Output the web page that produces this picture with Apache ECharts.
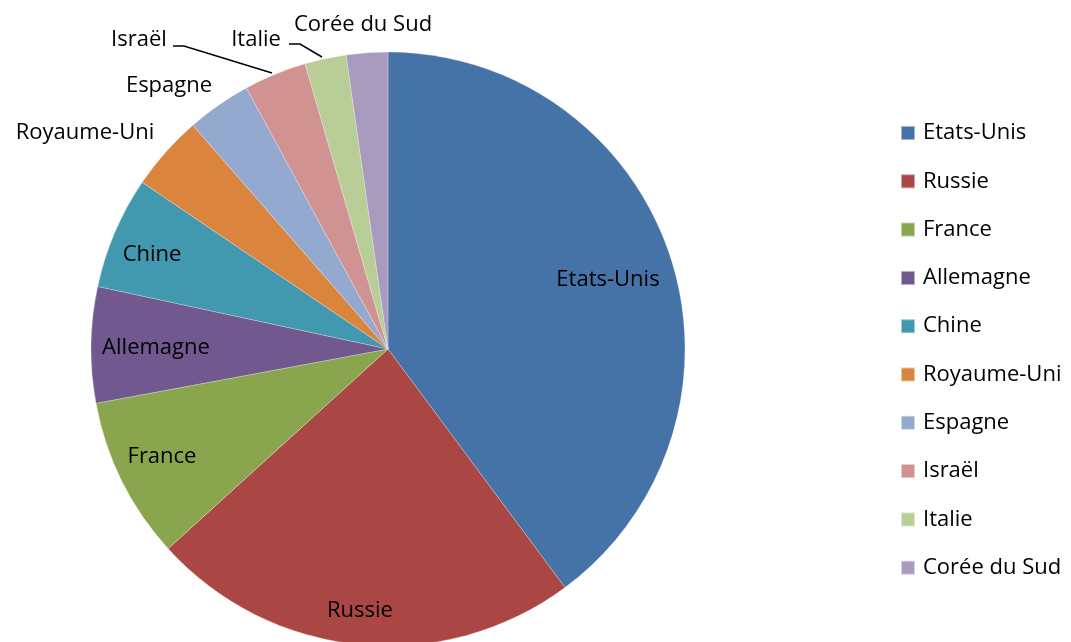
<!DOCTYPE html>
<html>
<head>
<meta charset="utf-8">
<script src="https://cdn.jsdelivr.net/npm/echarts@6/dist/echarts.min.js"></script>
<style>html,body{margin:0;padding:0;background:#fff}#c{width:1071px;height:642px}</style>
</head>
<body>
<div id="c"></div>
<script>
var categories = ['Etats-Unis','Russie','France','Allemagne','Chine','Royaume-Uni','Espagne','Israël','Italie','Corée du Sud'];
var values = [39.8, 23.4, 8.8, 6.3, 6.1, 4.1, 3.5, 3.4, 2.25, 2.25];
var colors = ['#4572A7','#AA4643','#89A54E','#71588F','#4198AF','#DB843D','#93A9CF','#D19392','#B9CD96','#A99BBD'];

// label placement (text centres, px) and leader lines
var labelPos = {
  'Etats-Unis': [608, 280],
  'Russie': [360, 611],
  'France': [162, 457],
  'Allemagne': [156, 348],
  'Chine': [152, 255],
  'Royaume-Uni': [85, 133],
  'Espagne': [169, 86],
  'Israël': [139, 40],
  'Italie': [256, 40],
  'Corée du Sud': [363, 25]
};
var leaderLines = {
  'Israël': [[272, 73], [184, 46], [173, 46]],
  'Italie': [[322, 57], [300, 44], [289, 44]]
};

var chart = echarts.init(document.getElementById('c'), null, {renderer: 'canvas'});
var font = 'Open Sans';
var fs = 22;
chart.setOption({
  animation: false,
  color: colors,
  legend: {
    orient: 'vertical',
    left: 895,
    top: 117,
    itemWidth: 14,
    itemHeight: 14,
    itemGap: 26.3,
    icon: 'rect',
    textStyle: {fontFamily: font, fontSize: fs, color: '#000', lineHeight: 22, padding: [0,0,0,3]},
    data: categories
  },
  series: [{
    type: 'pie',
    center: [388, 349],
    radius: 297,
    startAngle: 90,
    clockwise: true,
    avoidLabelOverlap: false,
    itemStyle: {borderColor: 'rgba(255,255,255,0.5)', borderWidth: 0.5},
    label: {show: true, position: 'outside', fontFamily: font, fontSize: fs, color: '#000'},
    labelLine: {show: false, lineStyle: {color: '#000', width: 1.5}},
    emphasis: {disabled: true},
    data: categories.map(function (n, i) {
      var d = {name: n, value: values[i]};
      if (leaderLines[n]) d.labelLine = {show: true, length: 10, length2: 10};
      return d;
    }),
    labelLayout: function (p) {
      var n = categories[p.dataIndex];
      var pos = labelPos[n];
      var o = {x: pos[0], y: pos[1], align: 'center', verticalAlign: 'middle'};
      if (leaderLines[n]) o.labelLinePoints = leaderLines[n];
      return o;
    }
  }]
});
</script>
</body>
</html>
